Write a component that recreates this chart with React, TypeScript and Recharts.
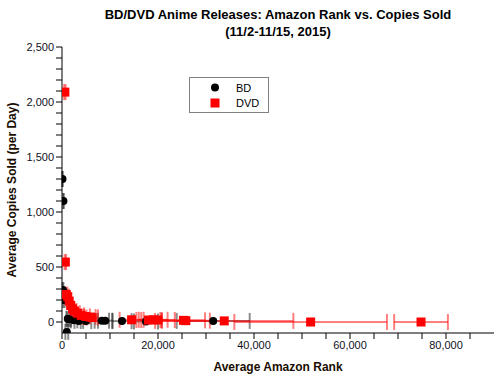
import { ScatterChart, Scatter, XAxis, YAxis, ErrorBar, Label } from 'recharts';

// BD releases: average rank, copies/day, rank spread
const bdRank = [100, 300, 200, 400, 1000, 1200, 1500, 2500, 3500, 5000, 8300, 9000, 12500, 17500, 31500];
const bdCopies = [1300, 1100, 290, 200, -90, 30, 25, 15, 10, 8, 12, 12, 8, 5, 10];
const bdSpread = [80, 100, 80, 150, 300, 300, 400, 700, 900, 1100, 1500, 1500, 2000, 2500, 7600];

// DVD releases
const dvdRank = [600, 700, 900, 1200, 1500, 1800, 2200, 2600, 3200, 4000, 5000, 5800, 6300, 14500, 18000, 19000, 20000, 25300, 25800, 33800, 51800, 74800];
const dvdCopies = [2090, 545, 250, 230, 190, 150, 120, 100, 80, 60, 50, 45, 40, 20, 18, 20, 18, 15, 12, 10, 0, 0];
const dvdSpread = [150, 150, 200, 250, 300, 300, 350, 400, 500, 600, 800, 1200, 1200, 2500, 2500, 3000, 3500, 4500, 5000, 14400, 15900, 5600];

const xTicks = [0, 5000, 10000, 15000, 20000, 25000, 30000, 35000, 40000, 45000, 50000, 55000, 60000, 65000, 70000, 75000, 80000, 85000];
const yTicks = [0, 100, 200, 300, 400, 500, 600, 700, 800, 900, 1000, 1100, 1200, 1300, 1400, 1500, 1600, 1700, 1800, 1900, 2000, 2100, 2200, 2300, 2400, 2500];

const bdData = bdRank.map((rank, i) => ({ rank, copies: bdCopies[i], spread: bdSpread[i] }));
const dvdData = dvdRank.map((rank, i) => ({ rank, copies: dvdCopies[i], spread: dvdSpread[i] }));

const fmt = (v: number) => v.toLocaleString('en-US');
const tickFont = { fontFamily: 'Liberation Sans, Arial, sans-serif', fontSize: 11, fill: '#111122' };
const titleFont = 'Liberation Sans, Arial, sans-serif';

const BdDot = (p: any) => <circle cx={p.cx} cy={p.cy} r={4} fill="#000" />;
const DvdDot = (p: any) => <rect x={p.cx - 4.5} y={p.cy - 4.5} width={9} height={9} fill="#ff0000" />;

const LegendBox = () => (
  <div
    style={{
      position: 'absolute',
      left: 189,
      top: 77,
      width: 80,
      height: 36,
      border: '1px solid #808080',
      fontFamily: titleFont,
      fontSize: 11,
      color: '#000',
      boxSizing: 'border-box',
    }}
  >
    <svg width={12} height={30} style={{ position: 'absolute', left: 19, top: 3 }}>
      <circle cx={6} cy={6.5} r={4} fill="#000" />
      <rect x={1.5} y={17.5} width={9} height={9} fill="#ff0000" />
    </svg>
    <div style={{ position: 'absolute', left: 46, top: 3, lineHeight: '14px' }}>BD</div>
    <div style={{ position: 'absolute', left: 46, top: 18, lineHeight: '14px' }}>DVD</div>
  </div>
);

export default function App() {
  return (
    <div style={{ position: 'absolute', left: 0, top: 0, width: 500, height: 380, background: '#fff' }}>
      <div
        style={{
          position: 'absolute',
          left: 0,
          top: 6,
          width: 556,
          textAlign: 'center',
          fontFamily: titleFont,
          fontWeight: 'bold',
          fontSize: 13,
          lineHeight: '17px',
          color: '#000',
        }}
      >
        BD/DVD Anime Releases: Amazon Rank vs. Copies Sold
        <br />
        (11/2-11/15, 2015)
      </div>
      <ScatterChart width={500} height={380} margin={{ top: 47, right: 6, bottom: 0, left: 0 }}>
        <XAxis
          type="number"
          dataKey="rank"
          domain={[0, 90000]}
          ticks={xTicks}
          interval={0}
          tickFormatter={(v: number) => (v % 20000 === 0 ? fmt(v) : '')}
          tick={tickFont}
          tickSize={6}
          height={47}
          stroke="#000"
          allowDataOverflow
        >
          <Label
            content={(props: any) => {
              const vb = props.viewBox;
              return (
                <text
                  x={vb.x + vb.width / 2}
                  y={371}
                  textAnchor="middle"
                  fontFamily={titleFont}
                  fontWeight="bold"
                  fontSize={12}
                  fill="#1a0d00"
                >
                  Average Amazon Rank
                </text>
              );
            }}
          />
        </XAxis>
        <YAxis
          type="number"
          dataKey="copies"
          domain={[-100, 2500]}
          ticks={yTicks}
          interval={0}
          tickFormatter={(v: number) => (v % 500 === 0 ? fmt(v) : '')}
          tick={tickFont}
          tickSize={6}
          width={62}
          stroke="#000"
          allowDataOverflow
        >
          <Label
            content={(props: any) => {
              const vb = props.viewBox;
              const cy = vb.y + vb.height / 2;
              return (
                <text
                  x={16}
                  y={cy}
                  transform={`rotate(-90 16 ${cy})`}
                  textAnchor="middle"
                  fontFamily={titleFont}
                  fontWeight="bold"
                  fontSize={12}
                  fill="#1a0d00"
                >
                  Average Copies Sold (per Day)
                </text>
              );
            }}
          />
        </YAxis>
        <Scatter name="BD" data={bdData} shape={BdDot} isAnimationActive={false}>
          <ErrorBar dataKey="spread" direction="x" width={8} stroke="#000" strokeOpacity={0.45} strokeWidth={2} />
        </Scatter>
        <Scatter name="DVD" data={dvdData} shape={DvdDot} isAnimationActive={false}>
          <ErrorBar dataKey="spread" direction="x" width={8} stroke="#ff0000" strokeOpacity={0.5} strokeWidth={2} />
        </Scatter>
      </ScatterChart>
      <LegendBox />
    </div>
  );
}
